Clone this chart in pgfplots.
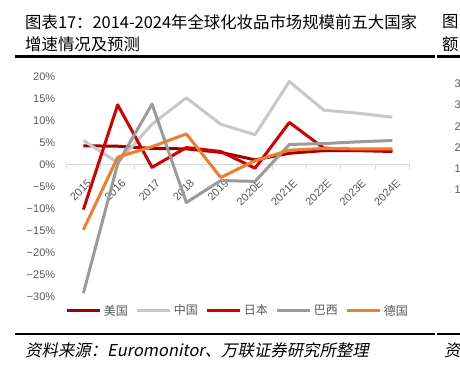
\documentclass[border=0pt]{standalone}
\usepackage{pgfplots}
\pgfplotsset{compat=1.18}
\usepackage{fontspec}
\setmainfont{Liberation Sans}
\newfontfamily\cjk{Noto Sans CJK SC}
\newfontfamily\cjkit[FakeSlant=0.2]{Noto Sans CJK SC}
\definecolor{usa}{HTML}{A00000}
\definecolor{chn}{HTML}{C8C8C8}
\definecolor{jpn}{HTML}{D00000}
\definecolor{bra}{HTML}{9B9B9B}
\definecolor{deu}{HTML}{ED7D31}
\definecolor{tick}{HTML}{595959}
\begin{document}
\begin{tikzpicture}[x=1pt,y=1pt]
\useasboundingbox (0,0) rectangle (460,366);
% title
\node[anchor=west,inner sep=0pt] at (25,344) {\fontsize{16.4}{18}\cjk 图表17：2014-2024年全球化妆品市场规模前五大国家};
\node[anchor=west,inner sep=0pt] at (25,322) {\fontsize{16.4}{18}\cjk 增速情况及预测};
\node[anchor=west,inner sep=0pt] at (442,344) {\fontsize{16.4}{18}\cjk 图};
\node[anchor=west,inner sep=0pt] at (442,322) {\fontsize{16.4}{18}\cjk 额};
\fill[black] (15,307.8) rectangle (435,311);
\fill[black] (437,307.8) rectangle (460,311);
\fill[black] (15,30.6) rectangle (435,32.8);
\fill[black] (437,30.6) rectangle (460,32.8);
\node[anchor=west,inner sep=0pt] at (25,16) {\fontsize{16.4}{18}\cjkit 资料来源：Euromonitor、万联证券研究所整理};
\node[anchor=west,inner sep=0pt] at (444,16) {\fontsize{16.4}{18}\cjkit 资};
% partial neighbouring axis labels
\foreach \yy/\tt in {282.7/35\%,261.7/30\%,239.3/25\%,218.7/20\%,197.7/15\%,176.7/10\%}{
  \node[anchor=west,inner sep=0pt,text=tick] at (454.5,\yy) {\fontsize{11}{13}\selectfont\tt};
}
\begin{axis}[
  at={(66.2pt,69.3pt)}, anchor=south west,
  scale only axis, width=343.3pt, height=220pt,
  xmin=-0.5, xmax=9.5, ymin=-30, ymax=20,
  axis x line*=middle, axis y line*=left,
  y axis line style={draw=none},
  x axis line style={draw=black!15, line width=0.8pt},
  xtick={0,...,9},
  xticklabels={2015,2016,2017,2018,2019,2020E,2021E,2022E,2023E,2024E},
  minor xtick={-0.5,0.5,...,9.5},
  major x tick style={draw=none},
  minor x tick style={draw=black!15, line width=0.8pt},
  minor tick length=4pt,
  xtick align=outside,
  ytick={-30,-25,...,20},
  yticklabels={−30\%,−25\%,−20\%,−15\%,−10\%,−5\%,0\%,5\%,10\%,15\%,20\%},
  y tick style={draw=none},
  tick label style={text=tick, font=\fontsize{11}{13}\selectfont},
  xticklabel style={rotate=45, anchor=east, xshift=-1pt, yshift=-13pt},
  yticklabel style={xshift=-7.5pt},
  legend columns=5,
  legend style={at={(0.5,0)}, anchor=center, yshift=-14pt, draw=none, fill=none,
    font=\fontsize{12}{14}\cjk\color{tick},
    /tikz/every even column/.append style={column sep=6pt}},
  legend image code/.code={\draw[#1, line width=3pt] (0pt,0pt) -- (33pt,0pt);},
  every axis plot/.append style={line width=3pt, line join=round},
]
\addplot[usa] coordinates {(0,4.3) (1,4.2) (2,3.7) (3,3.6) (4,2.8) (5,1.1) (6,2.6) (7,3.2) (8,3.2) (9,3.0)};
\addlegendentry{美国}
\addplot[chn] coordinates {(0,5.5) (1,0.5) (2,9.2) (3,15.2) (4,9.2) (5,6.8) (6,18.9) (7,12.4) (8,11.7) (9,10.8)};
\addlegendentry{中国}
\addplot[jpn] coordinates {(0,-10.2) (1,13.6) (2,-0.6) (3,3.9) (4,3.0) (5,-0.8) (6,9.6) (7,3.8) (8,3.3) (9,3.2)};
\addlegendentry{日本}
\addplot[bra] coordinates {(0,-29.2) (1,0.2) (2,13.8) (3,-8.6) (4,-3.6) (5,-3.8) (6,4.6) (7,4.8) (8,5.2) (9,5.5)};
\addlegendentry{巴西}
\addplot[deu] coordinates {(0,-14.8) (1,1.7) (2,4.1) (3,7.0) (4,-2.9) (5,0.9) (6,3.3) (7,3.7) (8,3.6) (9,3.6)};
\addlegendentry{德国}
\end{axis}
\end{tikzpicture}
\end{document}
